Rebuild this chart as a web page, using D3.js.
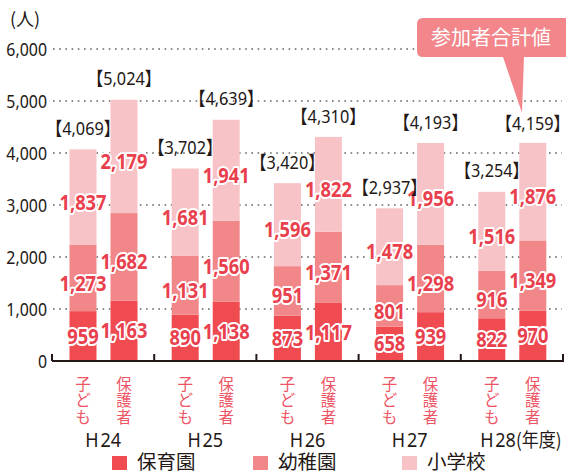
<!DOCTYPE html>
<html>
<head>
<meta charset="utf-8">
<script src="https://cdn.jsdelivr.net/npm/d3@7"></script>
<style>
  body { margin: 0; background: #fff; }
  svg { display: block; }
  .num { font-family: "Noto Sans", "Noto Sans CJK JP", sans-serif; }
  .jp { font-family: "Noto Sans CJK JP", sans-serif; }
</style>
</head>
<body>
<svg id="chart" width="566" height="473"></svg>
<script>
const years = ["H24", "H25", "H26", "H27", "H28"];
const groups = ["子ども", "保護者"];
const layers = ["保育園", "幼稚園", "小学校"];
const colors = ["#ef4b51", "#f2878a", "#f8c3c6"];

// [保育園, 幼稚園, 小学校] per bar, year by year (子ども then 保護者)
const children = [[959, 1273, 1837], [890, 1131, 1681], [873, 951, 1596], [658, 801, 1478], [822, 916, 1516]];
const parents = [[1163, 1682, 2179], [1138, 1560, 1941], [1117, 1371, 1822], [939, 1298, 1956], [970, 1349, 1876]];
const totals = [[4069, 5024], [3702, 4639], [3420, 4310], [2937, 4193], [3254, 4159]];
const yTicks = [0, 1000, 2000, 3000, 4000, 5000, 6000];

const svg = d3.select("#chart");
const x0 = d3.scaleBand().domain(years).range([52, 563]);
const x1 = d3.scalePoint().domain(groups).range([31, 72]);
const y = d3.scaleLinear().domain([0, 6000]).range([361, 49]);
const barW = 27;
const fmt = d3.format(",");

// narrow text: place at (x, y) and squeeze horizontally
const squeeze = (sel, fx, fy, sx) =>
  sel.attr("transform", (d, i) => `translate(${fx(d, i)},${fy(d, i)}) scale(${sx},1)`);

// gridlines
svg.append("g").selectAll("line").data(yTicks.slice(1)).join("line")
  .attr("x1", 53).attr("x2", 562)
  .attr("y1", d => y(d)).attr("y2", d => y(d))
  .attr("stroke", "#8a8a8a").attr("stroke-width", 2)
  .attr("stroke-dasharray", "1.6 4.6");

// y labels
svg.append("g").selectAll("text").data(yTicks).join("text")
  .attr("class", "num").attr("dy", "0.36em")
  .attr("text-anchor", "end").attr("font-size", 18.5).attr("fill", "#231815")
  .call(squeeze, () => 47, d => y(d), 0.86)
  .text(fmt);

svg.append("text").attr("class", "jp")
  .attr("x", 10).attr("y", 20).attr("dy", "0.36em")
  .attr("font-size", 18).attr("fill", "#231815").text("(人)");

// bars
const bars = [];
years.forEach((yr, i) => {
  [children[i], parents[i]].forEach((vals, j) => {
    let acc = 0;
    vals.forEach((v, k) => {
      bars.push({ yr, g: groups[j], k, v, y0: acc, y1: acc + v });
      acc += v;
    });
  });
});
const cx = d => x0(d.yr) + x1(d.g);

svg.append("g").selectAll("rect").data(bars).join("rect")
  .attr("x", d => cx(d) - barW / 2).attr("width", barW)
  .attr("y", d => y(d.y1)).attr("height", d => y(d.y0) - y(d.y1))
  .attr("fill", d => colors[d.k]);

// x axis line with group ticks
const bounds = years.map(x0).concat([x0.range()[1]]);
svg.append("line").attr("x1", 52).attr("x2", 564).attr("y1", 361).attr("y2", 361)
  .attr("stroke", "#231815").attr("stroke-width", 2.2);
svg.append("g").selectAll("line").data(bounds).join("line")
  .attr("x1", d => d).attr("x2", d => d).attr("y1", 361).attr("y2", 354)
  .attr("stroke", "#231815").attr("stroke-width", 2);

// segment value labels
svg.append("g").selectAll("text").data(bars).join("text")
  .attr("class", "num").attr("dy", "0.36em").attr("text-anchor", "middle")
  .attr("font-size", 21).attr("font-weight", "bold")
  .attr("fill", "#e9404d").attr("stroke", "#fff").attr("stroke-width", 4)
  .attr("stroke-linejoin", "round").attr("paint-order", "stroke")
  .call(squeeze, cx, d => (y(d.y0) + y(d.y1)) / 2 + (d.k ? 5 : 0), 0.87)
  .text(d => fmt(d.v));

// total labels
const totalData = years.flatMap((yr, i) => groups.map((g, j) => ({ yr, g, v: totals[i][j] })));
svg.append("g").selectAll("text").data(totalData).join("text")
  .attr("class", "num").attr("dy", "0.36em")
  .attr("text-anchor", "middle").attr("font-size", 18.5).attr("fill", "#231815")
  .call(squeeze, cx, d => y(d.v) - 21, 0.88)
  .text(d => "【" + fmt(d.v) + "】");

// vertical group labels
svg.append("g").selectAll("text")
  .data(years.flatMap(yr => groups.map(g => ({ yr, g }))))
  .join("text").attr("class", "jp")
  .attr("text-anchor", "middle").attr("font-size", 15.5).attr("fill", "#ee5564")
  .selectAll("tspan").data(d => Array.from(d.g).map((c, n) => ({ c, n, x: cx(d) })))
  .join("tspan")
  .attr("x", d => d.x).attr("y", d => 384 + d.n * 16.5).attr("dy", "0.36em")
  .text(d => d.c);

// year labels
const yl = svg.append("g").selectAll("text").data(years).join("text")
  .attr("class", "num").attr("dy", "0.36em")
  .attr("text-anchor", "middle").attr("font-size", 20).attr("fill", "#231815")
  .call(squeeze, d => x0(d) + x0.bandwidth() / 2 + (d === "H28" ? 9 : 0), () => 440, 0.9);
yl.append("tspan").text("H");
yl.append("tspan").attr("dx", 2).text(d => d.slice(1));
yl.filter(d => d === "H28").append("tspan").attr("class", "jp").attr("font-size", 19).text("(年度)");

// legend
const legX = [112, 253, 402];
const leg = svg.append("g").selectAll("g").data(layers).join("g")
  .attr("transform", (d, i) => `translate(${legX[i]},456)`);
leg.append("rect").attr("width", 15).attr("height", 14).attr("fill", (d, i) => colors[i]);
leg.append("text").attr("class", "jp")
  .attr("x", 25).attr("y", 6).attr("dy", "0.36em")
  .attr("font-size", 19.5).attr("fill", "#231815").text(d => d);

// callout
const co = svg.append("g");
co.append("path")
  .attr("d", "M423,18 H566 V57 H524 L522,113 L503,57 H423 Q417,57 417,51 V24 Q417,18 423,18 Z")
  .attr("fill", "#f2868a");
co.append("text").attr("class", "jp")
  .attr("x", 491).attr("y", 38).attr("dy", "0.36em")
  .attr("text-anchor", "middle").attr("font-size", 20).attr("fill", "#fff")
  .text("参加者合計値");
</script>
</body>
</html>
